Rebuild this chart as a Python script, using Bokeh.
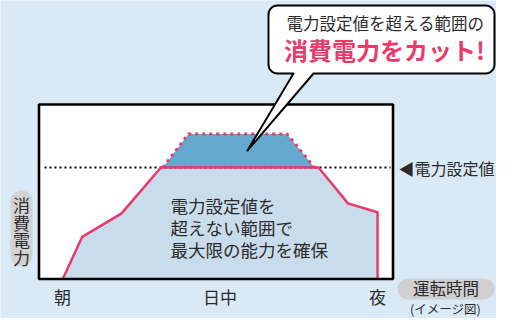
import numpy as np
from bokeh.plotting import figure
from bokeh.models import Range1d
from bokeh.core.properties import value
from bokeh.embed import file_html
from bokeh.resources import INLINE

# ---------------- data ----------------
hours = [6, 7, 9, 11, 19, 20.5, 22, 22]          # operating time (h)
power = [0, 38, 59, 100, 100, 68, 60, 0]         # capped consumption (% of setpoint)
peak_hours = [11.1, 12.4, 17.4, 18.8]            # uncapped demand above setpoint
peak_power = [100, 130, 130, 100]
setpoint = 100
tick_hours = [6, 14, 22]
tick_labels = ["朝", "日中", "夜"]
ylabel_chars = ["消", "費", "電", "力"]
bubble_line1 = "電力設定値を超える範囲の"
bubble_line2 = "消費電力をカット!"
setpoint_label = "◀電力設定値"
inner_lines = ["電力設定値を", "超えない範囲で", "最大限の能力を確保"]
xlabel = "運転時間"
note = "(イメージ図)"

FONT = "Noto Sans CJK JP"
PINK = "#e83b6c"
TXT = "#2b2b2b"

# ---------------- layout (pixel space of the canvas) ----------------
W, H = 496, 318
PX0, PX_PER_H = 62.0, 19.69     # x pixel of 6h, pixels per hour
PY0, PY_PER_U = 279.0, 1.12     # y pixel of 0 %, pixels per %


def hx(px):
    return 6 + (px - PX0) / PX_PER_H


def uy(py):
    return (PY0 - py) / PY_PER_U


def to_data(pts):
    return [hx(a) for a, b in pts], [uy(b) for a, b in pts]


def rounded(x0, y0, x1, y1, r, tail=None):
    pts = []
    def arc(cx, cy, a0, a1):
        for a in np.linspace(np.radians(a0), np.radians(a1), 10):
            pts.append((cx + r * np.cos(a), cy + r * np.sin(a)))
    arc(x1 - r, y0 + r, -90, 0)
    arc(x1 - r, y1 - r, 0, 90)
    if tail:
        pts.extend(tail)
    arc(x0 + r, y1 - r, 90, 180)
    arc(x0 + r, y0 + r, 180, 270)
    return to_data(pts)


p = figure(width=W, height=H, output_backend="svg", toolbar_location=None,
           x_range=Range1d(hx(0), hx(W)), y_range=Range1d(uy(H), uy(0)),
           x_axis_location=None, y_axis_location=None, min_border=0)
p.grid.visible = False
p.outline_line_color = None
p.background_fill_color = "#dae9f6"
p.border_fill_color = "#dae9f6"

# chart box background
BX0, BX1, BY0, BY1 = 38.5, 392.5, 104, 278.5
p.quad(left=[hx(BX0)], right=[hx(BX1)], top=[uy(BY0)], bottom=[uy(BY1)],
       fill_color="white", line_color=None)

# fills
p.patch(hours, power, fill_color="#c9dcec", line_color=None)
p.patch(peak_hours, peak_power, fill_color="#65a9cf", line_color=None)

# setpoint dotted line
p.line([hx(44), hx(390)], [setpoint, setpoint], line_color="black",
       line_width=2, line_dash="2 3")

# capped consumption line
p.line(hours, power, line_color=PINK, line_width=2.5, line_join="miter")
# uncapped peak (dotted)
p.line(peak_hours, peak_power, line_color=PINK, line_width=3, line_dash="3 4")

# box border
p.quad(left=[hx(BX0)], right=[hx(BX1)], top=[uy(BY0)], bottom=[uy(BY1)],
       fill_color=None, line_color="black", line_width=2.6)

# inner text
for i, t in enumerate(inner_lines):
    p.text(x=[hx(170)], y=[uy(205 + 22 * i)], text=[t], text_font=value(FONT),
           text_font_size="17.5px", text_color=TXT, text_align="left",
           text_baseline="middle")

# callout bubble
bx, by = rounded(268, 5, 494, 73, 9, tail=[(313, 73), (247, 150), (293, 73)])
p.patch(bx, by, fill_color="white", line_color="black", line_width=2, line_join="round")
p.text(x=[hx(385)], y=[uy(22)], text=[bubble_line1], text_font=value(FONT),
       text_font_size="16.5px", text_color=TXT, text_align="center", text_baseline="middle")
p.text(x=[hx(384)], y=[uy(49)], text=[bubble_line2], text_font=value(FONT),
       text_font_size="24px", text_font_style="bold", text_color=PINK,
       text_align="center", text_baseline="middle")

# setpoint label
p.text(x=[hx(398)], y=[setpoint], text=[setpoint_label], text_font=value(FONT),
       text_font_size="16px", text_color=TXT, text_align="left", text_baseline="middle")

# x tick labels
p.text(x=tick_hours, y=[uy(296)] * len(tick_hours), text=tick_labels,
       text_font=value(FONT), text_font_size="17px", text_color=TXT,
       text_align="center", text_baseline="middle")

# x label pill
gx, gy = rounded(397, 278, 494, 299, 10.5)
p.patch(gx, gy, fill_color="#d0d0d0", line_color=None)
p.text(x=[hx(445.5)], y=[uy(287.5)], text=[xlabel], text_font=value(FONT),
       text_font_size="16.5px", text_color=TXT, text_align="center", text_baseline="middle")
p.text(x=[hx(445)], y=[uy(307.5)], text=[note], text_font=value(FONT),
       text_font_size="12.5px", text_color=TXT, text_align="center", text_baseline="middle")

# y label pill
vx, vy = rounded(10, 190, 32, 266, 11)
p.patch(vx, vy, fill_color="#d3d3d3", line_color=None)
p.text(x=[hx(21)] * 4, y=[uy(204 + 17.5 * i) for i in range(4)], text=ylabel_chars,
       text_font=value(FONT), text_font_size="17px", text_color=TXT,
       text_align="center", text_baseline="middle")

open("out.html", "w").write(file_html(p, INLINE))
